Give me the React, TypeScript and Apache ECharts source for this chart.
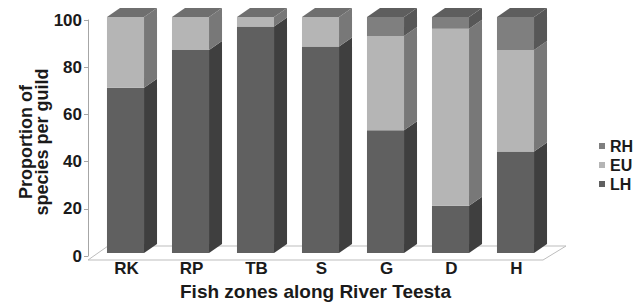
import React, { useEffect, useRef } from "react";
import * as echarts from "echarts";

const categories = ["RK", "RP", "TB", "S", "G", "D", "H"];
const seriesNames = ["LH", "EU", "RH"];
const lhValues = [70, 86, 96, 87.5, 52, 20, 43];
const euValues = [30, 14, 4, 12.5, 40, 75, 43];
const rhValues = [0, 0, 0, 0, 8, 5, 14];
const yTicks = [0, 20, 40, 60, 80, 100];

const faceColors: Record<string, { front: string; side: string; top: string }> = {
  LH: { front: "#606060", side: "#3f3f3f", top: "#505050" },
  EU: { front: "#b5b5b5", side: "#787878", top: "#6f6f6f" },
  RH: { front: "#7f7f7f", side: "#575757", top: "#5e5e5e" },
};

const FONT = "'Liberation Sans', Arial, sans-serif";

export default function App() {
  const ref = useRef<HTMLDivElement>(null);
  useEffect(() => {
    if (!ref.current) return;
    const chart = echarts.init(ref.current, undefined, { renderer: "svg" });
    const all = [lhValues, euValues, rhValues];
    const stacked = all.map((vals, s) =>
      vals.map((v, i) => {
        let base = 0;
        for (let k = 0; k < s; k++) base += all[k][i];
        let isTop = 1;
        for (let k = s + 1; k < all.length; k++) if (all[k][i] > 0) isTop = 0;
        return [i, base, base + v, isTop];
      })
    );
    const DX = 13;
    const DY = 9;
    const makeRender = (name: string) => (params: any, api: any) => {
      const i = api.value(0);
      const base = api.value(1);
      const top = api.value(2);
      const isTop = api.value(3);
      if (top - base <= 0) return null;
      const p0 = api.coord([i, base]);
      const p1 = api.coord([i, top]);
      const band = api.size([1, 0])[0];
      const w = band * 0.57;
      const cx = p0[0] + band * 0.077;
      const yb = p0[1] - 3;
      const yt = p1[1] - 3;
      const x0 = cx - w / 2;
      const x1 = cx + w / 2;
      const c = faceColors[name];
      const children: any[] = [
        {
          type: "polygon",
          shape: { points: [[x1, yb], [x1 + DX, yb - DY], [x1 + DX, yt - DY], [x1, yt]] },
          style: { fill: c.side },
        },
        {
          type: "rect",
          shape: { x: x0, y: yt, width: w, height: yb - yt },
          style: { fill: c.front },
        },
      ];
      if (isTop) {
        children.push({
          type: "polygon",
          shape: { points: [[x0, yt], [x1, yt], [x1 + DX, yt - DY], [x0 + DX, yt - DY]] },
          style: { fill: c.top },
        });
      }
      return { type: "group", children };
    };

    chart.setOption({
      animation: false,
      grid: { left: 88, right: 101, top: 20, bottom: 46, containLabel: false },
      legend: {
        data: ["RH", "EU", "LH"],
        orient: "vertical",
        left: 594,
        top: 133,
        icon: "rect",
        itemWidth: 6,
        itemHeight: 6,
        itemGap: 3,
        selectedMode: false,
        textStyle: { fontFamily: FONT, fontWeight: "bold", fontSize: 16, color: "#1a1a1a" },
      },
      xAxis: {
        type: "category",
        data: categories,
        name: "Fish zones along River Teesta",
        nameLocation: "middle",
        nameGap: 26,
        nameMoveOverlap: false,
        nameTextStyle: { fontFamily: FONT, fontWeight: "bold", fontSize: 19, color: "#1a1a1a" },
        axisLine: { show: false },
        axisTick: { show: false },
        axisLabel: {
          fontFamily: FONT,
          fontWeight: "bold",
          fontSize: 17,
          color: "#1a1a1a",
          margin: 4,
          padding: [0, 0, 0, 12],
        },
      },
      yAxis: {
        type: "value",
        min: 0,
        max: 100,
        interval: 20,
        name: "Proportion of\nspecies per guild",
        nameLocation: "middle",
        nameGap: 38,
        nameMoveOverlap: false,
        nameTextStyle: {
          fontFamily: FONT,
          fontWeight: "bold",
          fontSize: 18,
          color: "#1a1a1a",
          lineHeight: 16,
          padding: [0, 8, 0, 0],
        },
        axisLine: { show: true, lineStyle: { color: "#a6a6a6", width: 1 } },
        axisTick: { show: true, length: 4, lineStyle: { color: "#a6a6a6" } },
        splitLine: { show: false },
        axisLabel: {
          fontFamily: FONT,
          fontWeight: "bold",
          fontSize: 17,
          color: "#1a1a1a",
          margin: 6,
          formatter: (v: number) => (yTicks.includes(v) ? String(v) : ""),
        },
      },
      graphic: [
        {
          type: "polygon",
          z: 0,
          silent: true,
          shape: { points: [[88, 260], [543, 260], [566, 246], [108, 246]] },
          style: { fill: "#ffffff", stroke: "#bdbdbd", lineWidth: 1 },
        },
      ],
      series: seriesNames.map((name, s) => ({
        name,
        type: "custom",
        z: 3,
        renderItem: makeRender(name),
        encode: { x: 0, y: [1, 2] },
        itemStyle: { color: faceColors[name].front },
        data: stacked[s],
      })),
    });
    return () => chart.dispose();
  }, []);
  return (
    <div
      ref={ref}
      style={{ position: "fixed", left: 0, top: 0, width: 644, height: 306, background: "#fff" }}
    />
  );
}
